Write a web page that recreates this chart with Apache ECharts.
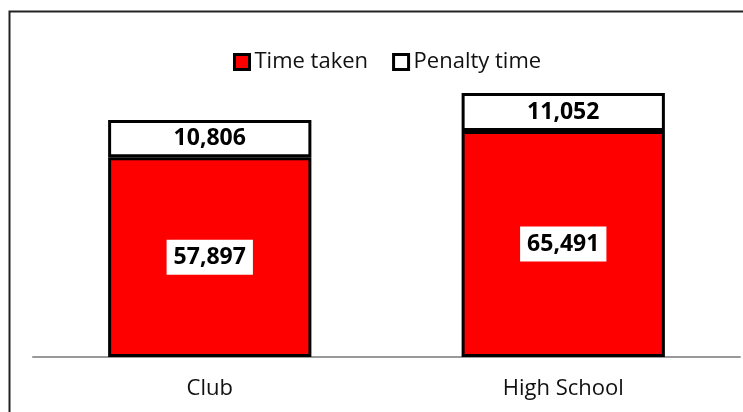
<!DOCTYPE html>
<html><head><meta charset="utf-8">
<script src="https://cdn.jsdelivr.net/npm/echarts@6/dist/echarts.min.js"></script>
<style>html,body{margin:0;padding:0;background:#fff}#c{width:743px;height:412px}</style>
</head><body><div id="c"></div>
<script>
const categories = ['Club', 'High School'];
const timeTaken = [57897, 65491];
const penaltyTime = [10806, 11052];
const seriesNames = ['Time taken', 'Penalty time'];

const chart = echarts.init(document.getElementById('c'), null, {renderer: 'canvas'});
const fmt = p => p.value.toLocaleString('en-US');
const font = '"Open Sans", "Noto Sans", sans-serif';
chart.setOption({
  animation: false,
  backgroundColor: '#fff',
  graphic: [{
    type: 'polyline', silent: true,
    shape: {points: [[9.5, 420], [9.5, 11.5], [760, 11.5]]},
    style: {stroke: '#222', lineWidth: 2, fill: null}
  }],
  legend: {
    top: 46, left: 228,
    itemWidth: 15, itemHeight: 15, itemGap: 24,
    textStyle: {fontSize: 22, color: '#111', fontFamily: font},
    data: [
      {name: seriesNames[0], icon: 'rect', itemStyle: {color: '#ff0000', borderColor: '#000', borderWidth: 3}},
      {name: seriesNames[1], icon: 'rect', itemStyle: {color: '#fff', borderColor: '#000', borderWidth: 3}}
    ]
  },
  grid: {left: 33, right: 3, top: 81, bottom: 55},
  xAxis: {
    type: 'category', data: categories,
    axisLine: {lineStyle: {color: '#999', width: 2}},
    axisTick: {show: false},
    axisLabel: {fontSize: 22, color: '#111', margin: 21, fontFamily: font}
  },
  yAxis: {type: 'value', min: 0, max: 80000, show: false, splitLine: {show: false}},
  series: [
    {
      name: seriesNames[0], type: 'bar', stack: 's', barWidth: '57.5%',
      data: timeTaken,
      itemStyle: {color: '#ff0000', borderColor: '#000', borderWidth: 3},
      label: {show: true, position: 'inside', formatter: fmt, fontSize: 23, fontWeight: 'bold',
        color: '#000', backgroundColor: '#fff', padding: [7, 7, 5, 7], fontFamily: font}
    },
    {
      name: seriesNames[1], type: 'bar', stack: 's',
      data: penaltyTime,
      itemStyle: {color: '#fff', borderColor: '#000', borderWidth: 3},
      label: {show: true, position: 'inside', formatter: fmt, fontSize: 23, fontWeight: 'bold',
        color: '#000', fontFamily: font}
    }
  ]
});
</script></body></html>
